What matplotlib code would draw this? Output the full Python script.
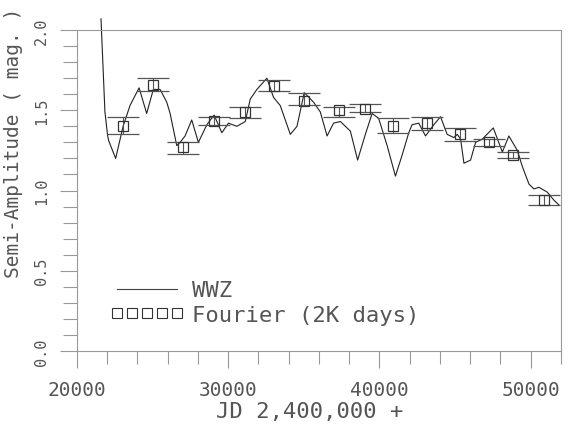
import matplotlib
matplotlib.use('Agg')
import matplotlib.pyplot as plt
from matplotlib.lines import Line2D
from matplotlib.ticker import MultipleLocator

plt.rcParams['font.family'] = ['DejaVu Sans Mono']

# WWZ semi-amplitude curve
wwz_jd = [21590, 21850, 22030, 22100, 22560, 23050, 23510, 24110, 24610, 25050,
          25500, 25940, 26160, 26600, 26820, 27150, 27590, 28030, 28590, 29070,
          29580, 30020, 30570, 31130, 31460, 31900, 32560, 33000, 33440, 34110,
          34550, 35030, 35650, 36090, 36540, 36970, 37420, 38080, 38560, 39070,
          39520, 39950, 40510, 41060, 41500, 41940, 42160, 42600, 43050, 43600,
          44040, 44480, 44920, 45150, 45370, 45590, 46030, 46360, 46800, 47530,
          48130, 48560, 49120, 49450, 49890, 50220, 50550, 51100, 51540, 51870]
wwz_amp = [2.07, 1.49, 1.34, 1.31, 1.20, 1.40, 1.53, 1.64, 1.48, 1.63,
           1.63, 1.55, 1.48, 1.28, 1.30, 1.34, 1.44, 1.30, 1.41, 1.47,
           1.36, 1.42, 1.40, 1.43, 1.57, 1.63, 1.70, 1.58, 1.53, 1.35,
           1.40, 1.61, 1.55, 1.49, 1.34, 1.42, 1.43, 1.37, 1.19, 1.35,
           1.48, 1.45, 1.28, 1.09, 1.22, 1.36, 1.41, 1.42, 1.34, 1.41,
           1.46, 1.35, 1.33, 1.35, 1.32, 1.17, 1.19, 1.30, 1.32, 1.39,
           1.24, 1.34, 1.25, 1.15, 1.04, 1.01, 1.02, 0.99, 0.94, 0.91]

# Fourier fits over 2K-day windows
four_jd = [23070, 25050, 27040, 29070, 31130, 33000, 35010, 37310,
           39070, 40910, 43150, 45320, 47260, 48850, 50880]
four_amp = [1.405, 1.66, 1.27, 1.435, 1.49, 1.65, 1.56, 1.50,
            1.51, 1.405, 1.42, 1.35, 1.30, 1.22, 0.94]
four_hi = [1.46, 1.70, 1.30, 1.46, 1.52, 1.69, 1.61, 1.52,
           1.54, 1.45, 1.46, 1.39, 1.32, 1.24, 0.975]
four_lo = [1.35, 1.62, 1.23, 1.41, 1.45, 1.62, 1.53, 1.46,
           1.49, 1.36, 1.38, 1.31, 1.28, 1.20, 0.91]

txt = '#555555'
frame = '#999999'

fig = plt.figure(figsize=(5.7, 4.27), dpi=100)
ax = fig.add_axes([0.135, 0.1756, 0.849, 0.7517])

ax.plot(wwz_jd, wwz_amp, color='#222222', lw=0.8, clip_on=False)

yerr = [[a - l for a, l in zip(four_amp, four_lo)],
        [h - a for a, h in zip(four_amp, four_hi)]]
ax.errorbar(four_jd, four_amp, yerr=yerr, fmt='s', ms=7, mfc='none',
            mec='#333333', mew=0.9, ecolor='#555555', elinewidth=0.8,
            capsize=11.5, capthick=0.8)

ax.set_xlim(20000, 52000)
ax.set_ylim(0, 2.0)
ax.xaxis.set_major_locator(MultipleLocator(10000))
ax.xaxis.set_minor_locator(MultipleLocator(2000))
ax.yaxis.set_major_locator(MultipleLocator(0.5))
ax.yaxis.set_minor_locator(MultipleLocator(0.1))
ax.set_yticklabels([f'{v:.1f}' for v in ax.get_yticks()], rotation=90, va='center')

ax.tick_params(which='both', direction='out', color=frame, labelcolor=txt, width=0.8)
ax.tick_params(axis='x', which='major', length=12, pad=9, labelsize=14)
ax.tick_params(axis='x', which='minor', length=9)
ax.tick_params(axis='y', which='major', length=12, pad=8, labelsize=11)
ax.tick_params(axis='y', which='minor', length=10)
for s in ax.spines.values():
    s.set_color(frame)
    s.set_linewidth(0.8)

fig.text(0.5439, 0.035, 'JD 2,400,000 +', color=txt, fontsize=16,
         ha='center', va='center')
fig.text(0.024, 0.665, 'Semi-Amplitude ( mag. )', color=txt, fontsize=14,
         rotation=90, ha='center', va='center')

handles = [Line2D([], [], color='#444444', lw=0.8),
           Line2D([], [], ls='none', marker='s', ms=7, mfc='none',
                  mec='#333333', mew=0.8)]
ax.legend(handles, ['WWZ', 'Fourier (2K days)'], loc='upper left',
          bbox_to_anchor=(0.045, 0.255), frameon=False, fontsize=16,
          handlelength=3.3, handletextpad=0.4, labelspacing=0.2,
          numpoints=5, borderpad=0, labelcolor=txt)

fig.savefig('out.png', dpi=100)
